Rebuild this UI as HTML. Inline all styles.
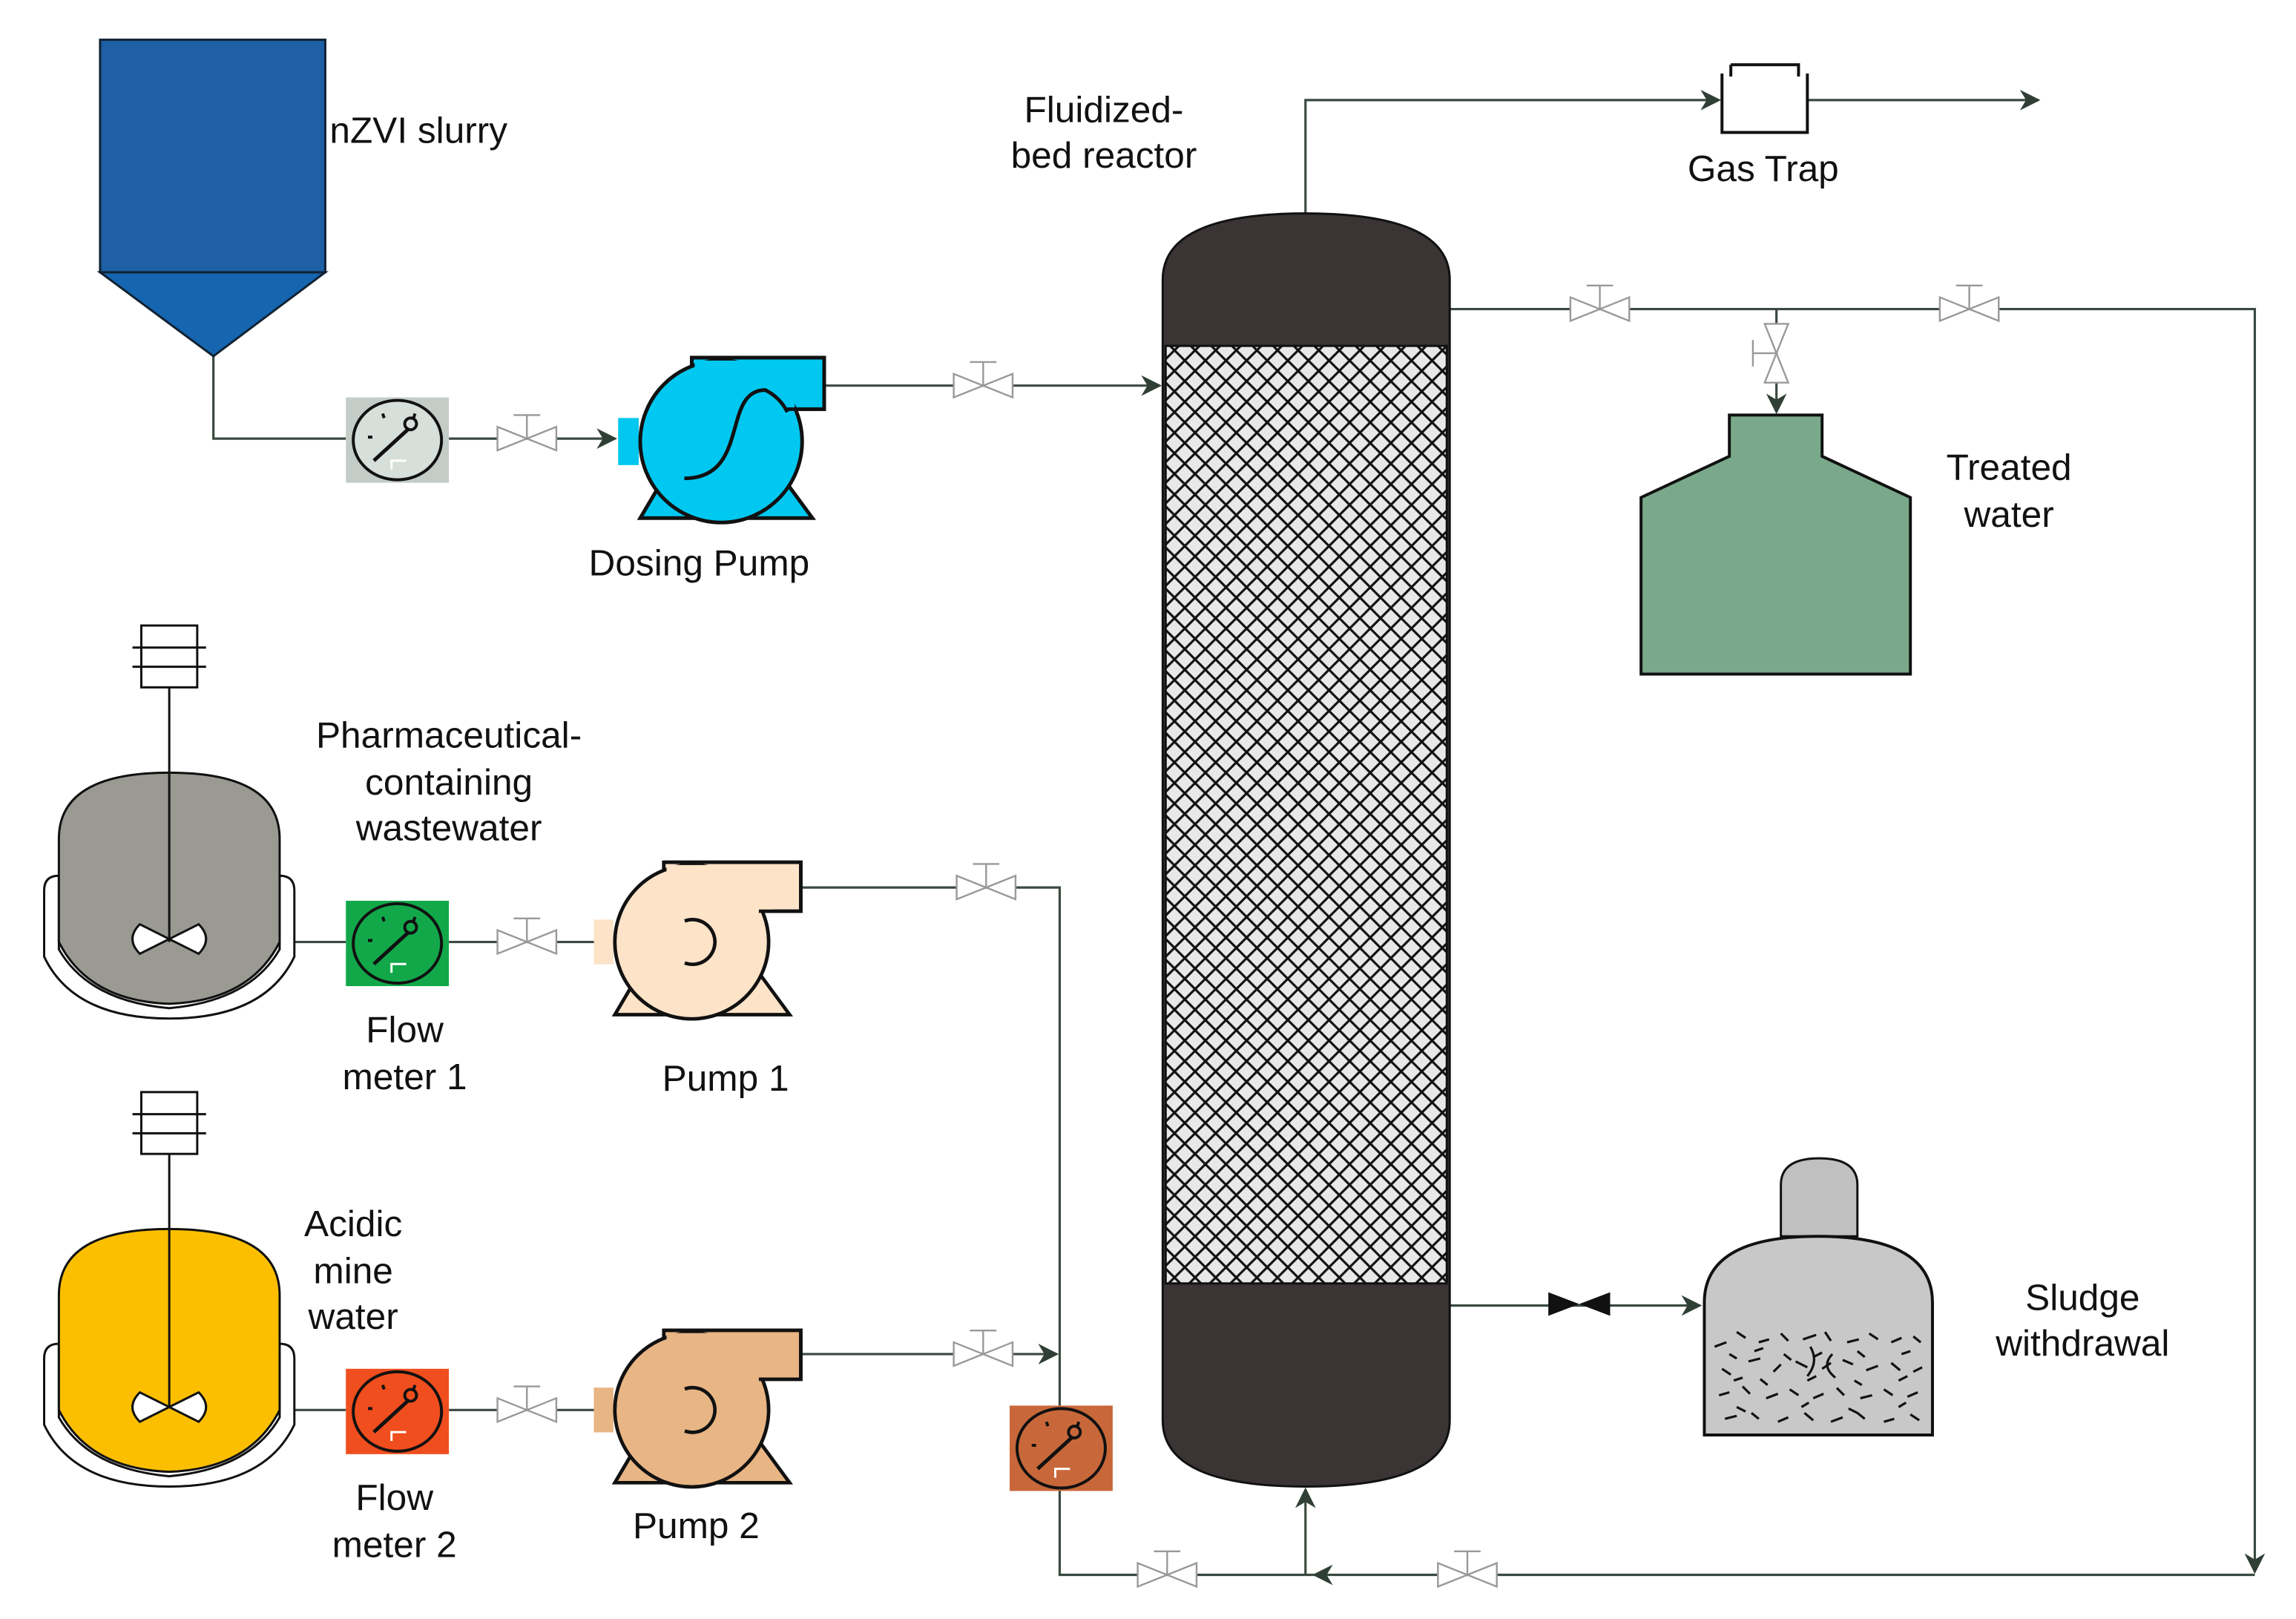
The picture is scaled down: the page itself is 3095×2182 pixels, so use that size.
<!DOCTYPE html>
<html><head><meta charset="utf-8"><style>html,body{margin:0;padding:0;background:#fff}svg{display:block}</style></head>
<body>
<svg width="3095" height="2182" viewBox="0 0 1560 1100" preserveAspectRatio="none" xmlns="http://www.w3.org/2000/svg" font-family="Liberation Sans, sans-serif" font-size="25" fill="#111">
<defs>
<pattern id="mesh" width="14" height="14" patternUnits="userSpaceOnUse">
<rect width="14" height="14" fill="#e8e8e8"/>
<path d="M0,0L14,14M14,0L0,14" stroke="#111" stroke-width="1.6"/>
</pattern>
<marker id="arb" viewBox="0 0 10 10" refX="9" refY="5" markerWidth="14" markerHeight="14" orient="auto" markerUnits="userSpaceOnUse"><path d="M0,0L10,5L0,10L3,5Z" fill="#2f3f35"/></marker>
<g id="valve"><polygon points="-20,-8 0,0 -20,8" fill="#fff" stroke="#999" stroke-width="1.2"/><polygon points="20,-8 0,0 20,8" fill="#fff" stroke="#999" stroke-width="1.2"/><path d="M0,0V-16M-9,-16H9" stroke="#999" stroke-width="1.2"/></g>
<g id="fmface"><ellipse cx="0" cy="0" rx="30" ry="27" fill="none" stroke="#111" stroke-width="2"/><path d="M-16,14L8,-8" stroke="#111" stroke-width="2.5"/><circle cx="9" cy="-11" r="4" fill="none" stroke="#111" stroke-width="2"/><path d="M-4,20V14H6" stroke="#fff" stroke-width="1.5" fill="none"/><path d="M-20,-2h3M-10,-18l1,3M12,-18l-1,3" stroke="#111" stroke-width="2"/></g>
</defs>
<g stroke="#3a4a40" stroke-width="1.6" fill="none">
<path d="M145,242V298H235"/>
<path d="M305,298H418" marker-end="url(#arb)"/>
<path d="M560,262H788" marker-end="url(#arb)"/>
<path d="M887,145V68H1168" marker-end="url(#arb)"/>
<path d="M1228,68H1385" marker-end="url(#arb)"/>
<path d="M985,210H1532V1068" marker-end="url(#arb)"/>
<path d="M1207,210V280" marker-end="url(#arb)"/>
<path d="M1532,1070H893" marker-end="url(#arb)"/>
<path d="M893,1070H720V1012"/>
<path d="M887,1070V1012" marker-end="url(#arb)"/>
<path d="M720,955V603H545"/>
<path d="M545,920H718" marker-end="url(#arb)"/>
<path d="M200,640H235M305,640H418" marker-end="url(#arb)"/>
<path d="M200,958H235M305,958H418" marker-end="url(#arb)"/>
<path d="M985,887H1155" marker-end="url(#arb)"/>
</g>
<rect x="68" y="27" width="153" height="158" fill="#1e5fa6" stroke="#123" stroke-width="1.5"/>
<polygon points="68,185 221,185 145,242" fill="#1565b0" stroke="#123" stroke-width="1.5"/>
<text x="224" y="97">nZVI slurry</text>
<g transform="translate(270,299)"><rect x="-35" y="-29" width="70" height="58" fill="#c4ccc7"/><ellipse rx="30" ry="27" fill="#d6dfda"/><use href="#fmface"/></g>
<g transform="translate(270,641)"><rect x="-35" y="-29" width="70" height="58" fill="#12a84a"/><use href="#fmface"/></g>
<g transform="translate(270,959)"><rect x="-35" y="-29" width="70" height="58" fill="#f04e1e"/><use href="#fmface"/></g>
<g transform="translate(721,984)"><rect x="-35" y="-29" width="70" height="58" fill="#c8683a"/><use href="#fmface"/></g>
<use href="#valve" x="358" y="298"/>
<use href="#valve" x="668" y="262"/>
<use href="#valve" x="358" y="640"/>
<use href="#valve" x="358" y="958"/>
<use href="#valve" x="670" y="603"/>
<use href="#valve" x="668" y="920"/>
<use href="#valve" x="1087" y="210"/>
<use href="#valve" x="1338" y="210"/>
<use href="#valve" x="793" y="1070"/>
<use href="#valve" x="997" y="1070"/>
<g transform="translate(1207,240) rotate(-90)"><use href="#valve"/></g>
<polygon points="1052,878 1073,886 1052,894" fill="#111"/><polygon points="1094,878 1073,886 1094,894" fill="#111"/>
<g transform="translate(490,300)" stroke="#111" stroke-width="2.5">
<polygon points="-55,52 62,52 37,18 -35,18" fill="#00c8f0"/>
<rect x="-70" y="-16" width="14" height="32" fill="#00c8f0" stroke="none"/>
<rect x="-20" y="-57" width="90" height="35" fill="#00c8f0"/>
<circle r="55" fill="#00c8f0"/>
<rect x="-18" y="-55" width="68" height="32" fill="#00c8f0" stroke="none"/>
<path d="M-20,-57H70V-22H45" fill="none"/>
<path d="M-25,25C20,25 0,-35 30,-35Q40,-30 45,-20" fill="none"/>
</g>
<g transform="translate(470,640) scale(0.95)" stroke="#111" stroke-width="2.5">
<polygon points="-55,52 70,52 45,18 -35,18" fill="#fde3c8"/>
<rect x="-70" y="-16" width="14" height="32" fill="#fde3c8" stroke="none"/>
<rect x="-20" y="-57" width="98" height="35" fill="#fde3c8"/>
<circle r="55" fill="#fde3c8"/>
<rect x="-18" y="-55" width="76" height="32" fill="#fde3c8" stroke="none"/>
<path d="M-20,-57H78V-22H48" fill="none"/>
<path d="M-5,-15A16,16 0 1 1 -5,15" fill="none"/>
</g>
<g transform="translate(470,958) scale(0.95)" stroke="#111" stroke-width="2.5">
<polygon points="-55,52 70,52 45,18 -35,18" fill="#e8b584"/>
<rect x="-70" y="-16" width="14" height="32" fill="#e8b584" stroke="none"/>
<rect x="-20" y="-57" width="98" height="35" fill="#e8b584"/>
<circle r="55" fill="#e8b584"/>
<rect x="-18" y="-55" width="76" height="32" fill="#e8b584" stroke="none"/>
<path d="M-20,-57H78V-22H48" fill="none"/>
<path d="M-5,-15A16,16 0 1 1 -5,15" fill="none"/>
</g>
<text x="475" y="391" text-anchor="middle">Dosing Pump</text>
<text x="493" y="741" text-anchor="middle">Pump 1</text>
<text x="473" y="1045" text-anchor="middle">Pump 2</text>
<path d="M790,190Q790,145 887,145Q985,145 985,190V965Q985,1010 887,1010Q790,1010 790,965Z" fill="#3b3434" stroke="#111" stroke-width="1.5"/>
<rect x="792" y="235" width="191" height="637" fill="url(#mesh)" stroke="#111" stroke-width="1.5"/>
<text x="750" y="83" text-anchor="middle">Fluidized-</text>
<text x="750" y="114" text-anchor="middle">bed reactor</text>
<path d="M1170,50V90H1228V50M1176,44H1222V52" fill="#fff" stroke="#111" stroke-width="2"/>
<path d="M1176,44V52" stroke="#111" stroke-width="2"/>
<text x="1198" y="123" text-anchor="middle">Gas Trap</text>
<path d="M1175,282H1238V310L1298,338V458H1115V338L1175,310Z" fill="#79a98a" stroke="#111" stroke-width="2"/>
<text x="1365" y="326" text-anchor="middle">Treated</text>
<text x="1365" y="358" text-anchor="middle">water</text>
<path d="M1210,840V805Q1210,787 1236,787Q1262,787 1262,805V840Z" fill="#c0c0c0" stroke="#111" stroke-width="1.5"/>
<path d="M1158,975V885Q1158,840 1235,840Q1313,840 1313,885V975Z" fill="#c8c8c8" stroke="#111" stroke-width="2"/>
<g stroke="#111" stroke-width="1.6" fill="none">
<path d="M1165,915l8,-3M1180,905l6,4M1195,912l7,-2M1210,906l5,5M1225,910l9,-3M1240,905l4,6M1255,912l8,-2M1270,906l6,4M1285,912l7,-3M1300,908l5,4M1170,930l6,4M1188,925l8,-2M1205,932l5,-5M1220,925l8,4M1238,930l6,-4M1252,924l7,3M1268,931l8,-3M1285,926l6,5M1300,932l6,-3M1168,948l7,-2M1184,942l5,5M1200,950l8,-3M1216,944l6,4M1232,950l7,-3M1248,943l5,5M1264,950l8,-2M1280,944l6,4M1296,949l7,-3M1172,964l8,-2M1190,960l5,4M1208,966l7,-3M1226,960l6,5M1244,966l8,-3M1262,960l5,4M1280,966l7,-2M1298,961l6,4M1230,915q6,10 -2,20M1245,920q-8,8 2,16"/>
<path d="M1175,920l5,3M1192,918l6,-2M1212,920l5,4M1232,922l6,-3M1262,918l5,4M1292,920l6,-2M1178,938l6,-2M1196,937l5,4M1228,938l6,-3M1260,938l5,3M1290,938l6,-3M1180,956l6,3M1224,956l5,-3M1256,957l6,3M1290,956l5,-3"/>
</g>
<text x="1415" y="890" text-anchor="middle">Sludge</text>
<text x="1415" y="921" text-anchor="middle">withdrawal</text>
<path d="M30,605Q30,595 40,595V645Q60,680 115,685Q170,680 190,645V595Q200,595 200,605V650Q180,692 115,692Q50,692 30,650Z" fill="#fff" stroke="#111" stroke-width="1.5"/>
<path d="M40,640V570Q40,525 115,525Q190,525 190,570V640Q170,680 115,682Q60,680 40,640Z" fill="#9a9a93" stroke="#111" stroke-width="1.5"/>
<rect x="96" y="425" width="38" height="42" fill="#fff" stroke="#111" stroke-width="1.5"/>
<path d="M90,440H140M90,453H140M115,467V640" stroke="#111" stroke-width="1.5"/>
<path d="M115,638L95,628Q85,638 95,648ZM115,638L135,628Q145,638 135,648Z" fill="#fff" stroke="#111" stroke-width="1.5"/>
<text x="305" y="508" text-anchor="middle">Pharmaceutical-</text>
<text x="305" y="540" text-anchor="middle">containing</text>
<text x="305" y="571" text-anchor="middle">wastewater</text>
<text x="275" y="708" text-anchor="middle">Flow</text>
<text x="275" y="740" text-anchor="middle">meter 1</text>
<path d="M30,923Q30,913 40,913V963Q60,998 115,1003Q170,998 190,963V913Q200,913 200,923V968Q180,1010 115,1010Q50,1010 30,968Z" fill="#fff" stroke="#111" stroke-width="1.5"/>
<path d="M40,958V880Q40,835 115,835Q190,835 190,880V958Q170,998 115,1000Q60,998 40,958Z" fill="#fcbf00" stroke="#111" stroke-width="1.5"/>
<rect x="96" y="742" width="38" height="42" fill="#fff" stroke="#111" stroke-width="1.5"/>
<path d="M90,757H140M90,770H140M115,784V956" stroke="#111" stroke-width="1.5"/>
<path d="M115,956L95,946Q85,956 95,966ZM115,956L135,946Q145,956 135,966Z" fill="#fff" stroke="#111" stroke-width="1.5"/>
<text x="240" y="840" text-anchor="middle">Acidic</text>
<text x="240" y="872" text-anchor="middle">mine</text>
<text x="240" y="903" text-anchor="middle">water</text>
<text x="268" y="1026" text-anchor="middle">Flow</text>
<text x="268" y="1058" text-anchor="middle">meter 2</text>
</svg>
</body></html>
